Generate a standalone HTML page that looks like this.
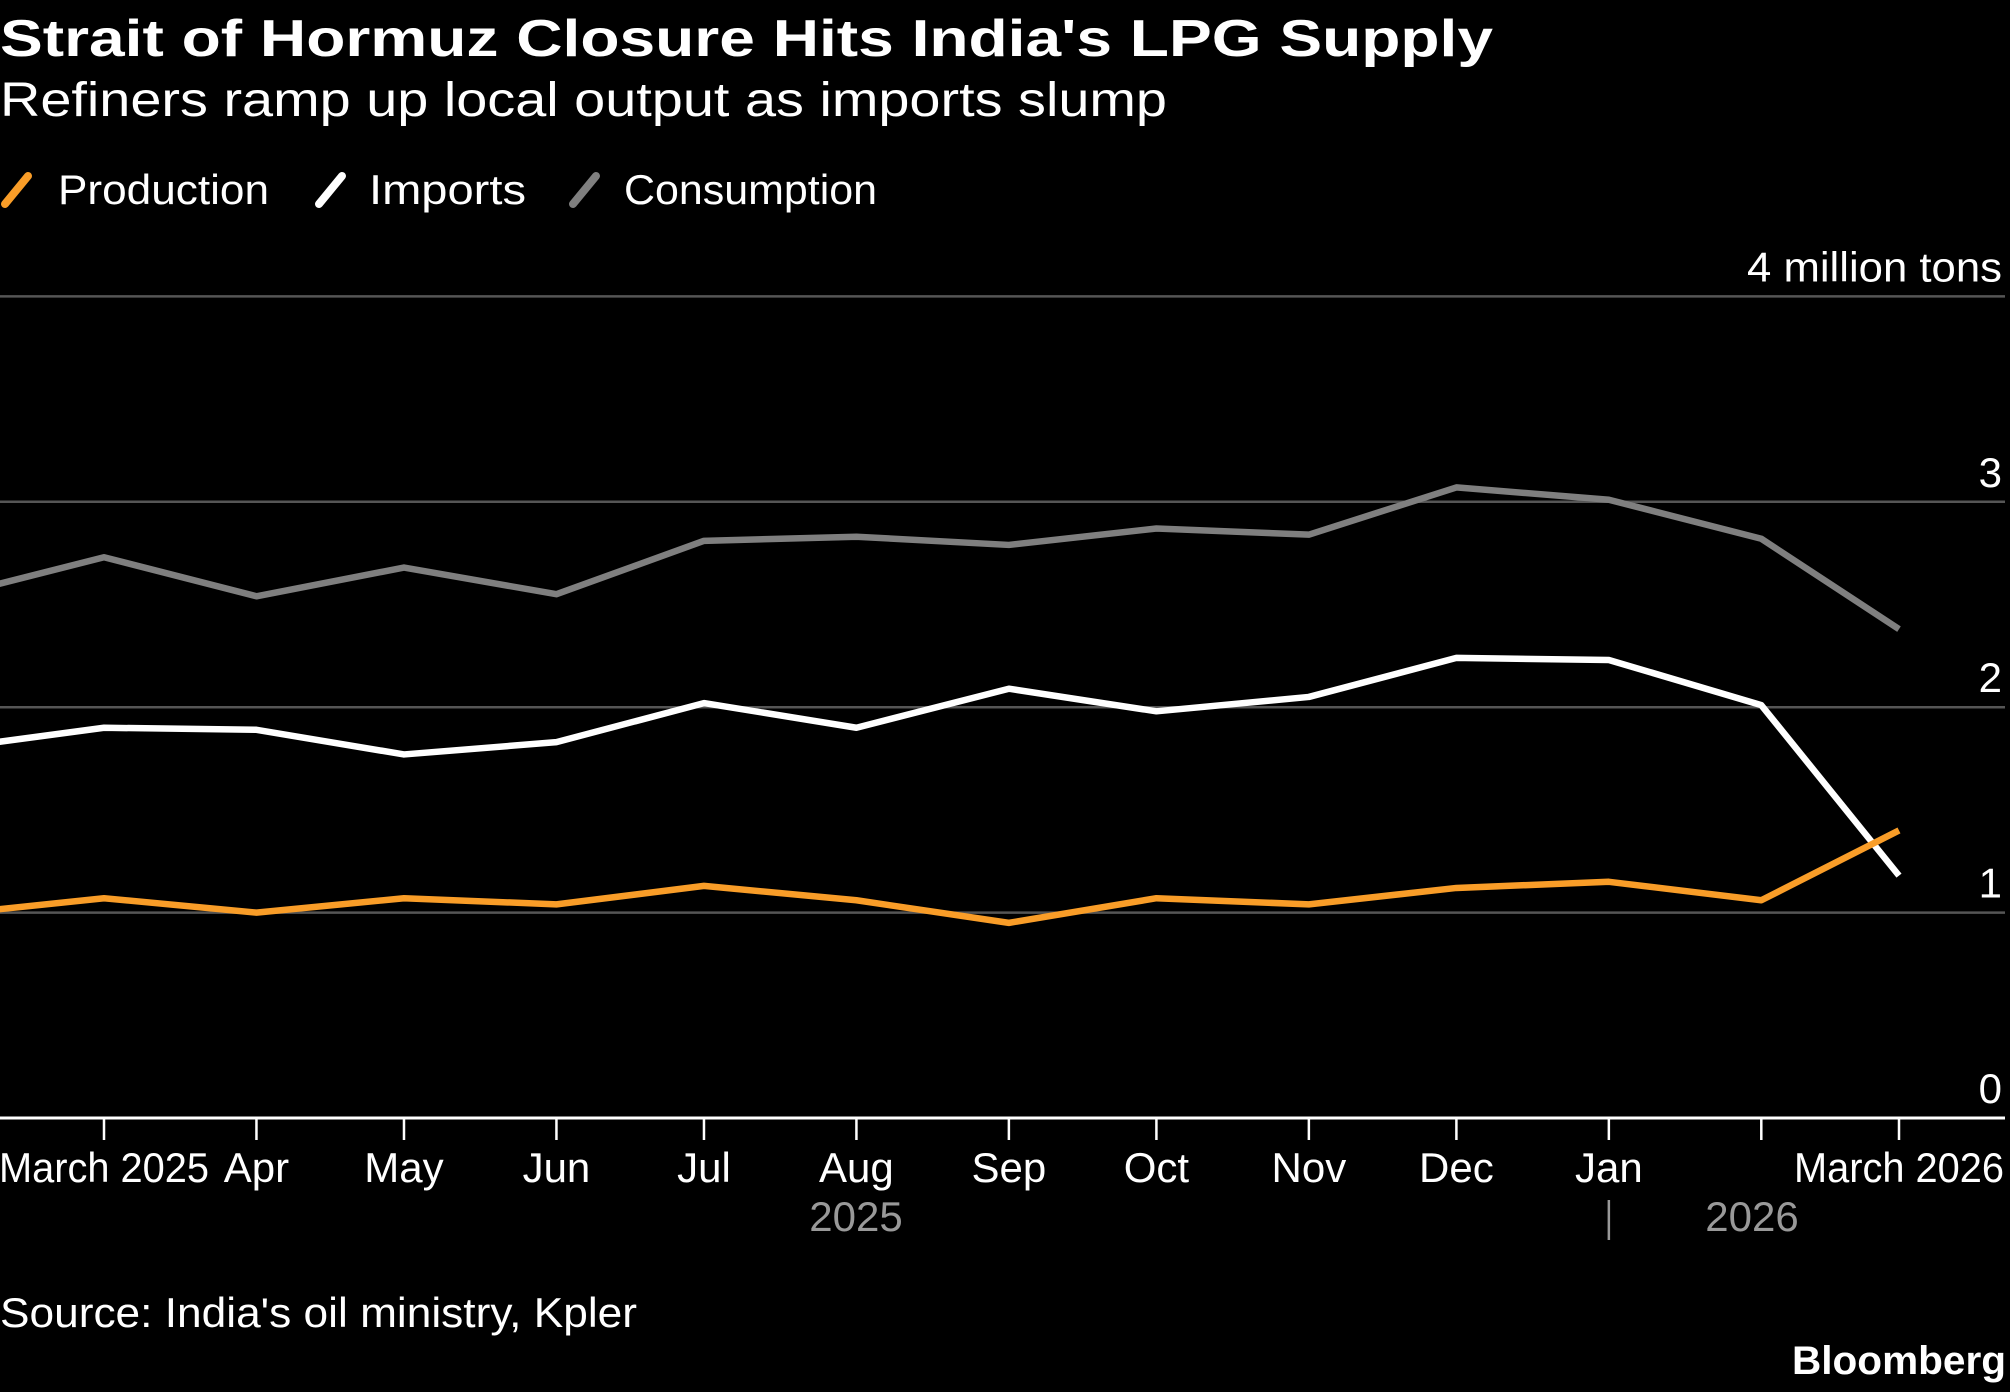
<!DOCTYPE html>
<html><head><meta charset="utf-8"><style>
html,body{margin:0;padding:0;background:#000;}
svg{display:block;font-family:"Liberation Sans Narrow","Liberation Sans",sans-serif;}
</style></head><body>
<svg id="chart" width="2010" height="1392" viewBox="0 0 2010 1392" xmlns="http://www.w3.org/2000/svg">
<rect width="2010" height="1392" fill="#000"/>
<text x="0" y="56" fill="#fff" font-size="52" font-weight="bold" textLength="1493" lengthAdjust="spacingAndGlyphs">Strait of Hormuz Closure Hits India's LPG Supply</text>
<text x="0" y="116" fill="#fff" font-size="48" textLength="1167" lengthAdjust="spacingAndGlyphs">Refiners ramp up local output as imports slump</text>
<g>
 <g><line x1="5" y1="204" x2="28" y2="176" stroke="#f99d28" stroke-width="8" stroke-linecap="round"/><text x="58" y="204" fill="#fff" font-size="42" textLength="211" lengthAdjust="spacingAndGlyphs">Production</text></g>
 <g><line x1="319" y1="204" x2="342" y2="176" stroke="#fff" stroke-width="8" stroke-linecap="round"/><text x="369" y="204" fill="#fff" font-size="42" textLength="157" lengthAdjust="spacingAndGlyphs">Imports</text></g>
 <g><line x1="573" y1="204" x2="596" y2="176" stroke="#7f7f7f" stroke-width="8" stroke-linecap="round"/><text x="624" y="204" fill="#fff" font-size="42" textLength="253" lengthAdjust="spacingAndGlyphs">Consumption</text></g>
</g>
<g id="grid"></g>
<g id="ylabels"></g>
<defs><clipPath id="plotclip"><rect x="0" y="250" width="2010" height="900"/></clipPath></defs>
<g id="series" clip-path="url(#plotclip)"></g>
<g id="xaxis"></g>
<text x="0" y="1327" fill="#fff" font-size="42" textLength="637" lengthAdjust="spacingAndGlyphs">Source: India's oil ministry, Kpler</text>
<text x="2006" y="1374" fill="#fff" font-size="40" font-weight="bold" text-anchor="end" textLength="214" lengthAdjust="spacingAndGlyphs">Bloomberg</text>
</svg>
<script>
const months = ["2025-02-01","2025-03-01","2025-04-01","2025-05-01","2025-06-01","2025-07-01","2025-08-01","2025-09-01","2025-10-01","2025-11-01","2025-12-01","2026-01-01","2026-02-01","2026-03-01"];
const tickLabels = ["","March 2025","Apr","May","Jun","Jul","Aug","Sep","Oct","Nov","Dec","Jan","","March 2026"];
const production = [1.00,1.07,1.00,1.07,1.04,1.13,1.06,0.95,1.07,1.04,1.12,1.15,1.06,1.40];
const imports = [1.81,1.90,1.89,1.77,1.83,2.02,1.90,2.09,1.98,2.05,2.24,2.23,2.01,1.18];
const consumption = [2.56,2.73,2.54,2.68,2.55,2.81,2.83,2.79,2.87,2.84,3.07,3.01,2.82,2.38];
const yTicks = [0,1,2,3,4];
const yTickLabels = ["0","1","2","3","4 million tons"];

const NS = "http://www.w3.org/2000/svg";
const t0 = Date.parse("2025-03-01"), t1 = Date.parse("2026-03-01");
const x = i => 104 + (Date.parse(months[i]) - t0) / (t1 - t0) * (1899 - 104);
const y = v => 1118 - v * 205.4;
function mk(tag, attrs, parent){const e=document.createElementNS(NS,tag);for(const k in attrs)e.setAttribute(k,attrs[k]);parent.appendChild(e);return e;}

const grid=document.getElementById('grid'), yl=document.getElementById('ylabels');
yTicks.forEach((t,i)=>{
  const l=mk('line',{x1:0,x2:2005,y1:y(t),y2:y(t),stroke:t===0?'#fff':'#555','stroke-width':t===0?3:2.5},grid);
  
  
  const attrs={x:2002,y:y(t)-15,fill:'#fff','font-size':42,'text-anchor':'end'};
  if(t===4){attrs.textLength=255;attrs.lengthAdjust='spacingAndGlyphs';}
  const tx=mk('text',attrs,yl);
  tx.textContent=yTickLabels[i];
  
  
});

const ser=document.getElementById('series');
[[consumption,'#7f7f7f','consumption-line'],[imports,'#fff','imports-line'],[production,'#f99d28','production-line']].forEach(([d,c,n])=>{
  const p=mk('polyline',{points:d.map((v,i)=>x(i)+','+y(v)).join(' '),fill:'none',stroke:c,'stroke-width':6.5,'stroke-linejoin':'round'},ser);
  
  
});

const xa=document.getElementById('xaxis');
months.forEach((m,i)=>{
  if(i===0)return;
  const t=mk('line',{x1:x(i),x2:x(i),y1:1118,y2:1140,stroke:'#fff','stroke-width':2.5},xa);
  
  
  if(tickLabels[i]){
    const a={x:x(i),y:1182,fill:'#fff','font-size':42,'text-anchor':'middle'};
    if(tickLabels[i].length>5){a.textLength=210;a.lengthAdjust='spacingAndGlyphs';}
    const tx=mk('text',a,xa);
    tx.textContent=tickLabels[i];
    
    
  }
});
const y1=mk('text',{x:856,y:1231,fill:'#999','font-size':42,'text-anchor':'middle'},xa);
y1.textContent='2025';


const y2=mk('text',{x:1752,y:1231,fill:'#999','font-size':42,'text-anchor':'middle'},xa);
y2.textContent='2026';


const sep=mk('line',{x1:x(11),x2:x(11),y1:1200,y2:1240,stroke:'#999','stroke-width':2.5},xa);


</script>
</body></html>
